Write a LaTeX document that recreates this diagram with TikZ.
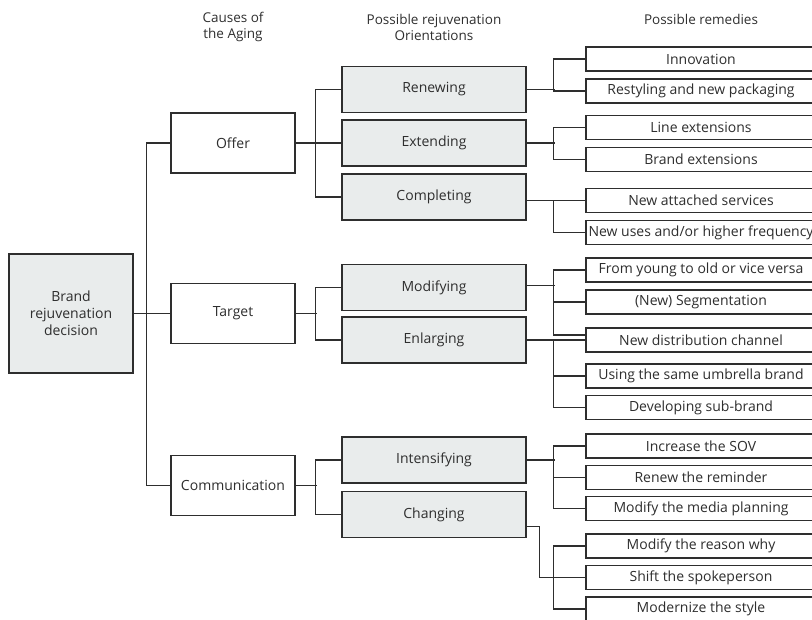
\documentclass[tikz,border=0pt]{standalone}
\usepackage{fontspec}
\setmainfont{Open Sans}
\definecolor{boxgray}{HTML}{E9ECEC}
\definecolor{inkgray}{HTML}{2E2E2E}
\begin{document}
\begin{tikzpicture}[x=1pt,y=-1pt,line width=1.3pt,
  every node/.style={text=inkgray,font=\fontsize{14}{17}\selectfont},
  rootbox/.style={draw=inkgray,fill=boxgray,minimum width=124pt,minimum height=119pt,align=center,inner sep=0pt},
  causebox/.style={draw=inkgray,fill=white,minimum width=124pt,minimum height=60pt,inner sep=0pt},
  orientbox/.style={draw=inkgray,fill=boxgray,minimum width=184pt,minimum height=46pt,inner sep=0pt},
  remedybox/.style={draw=inkgray,fill=white,minimum width=230pt,minimum height=24pt,inner sep=0pt},
  link/.style={draw=inkgray},
  headtext/.style={align=center,font=\fontsize{13.5}{16}\selectfont}]
\useasboundingbox (0,0) rectangle (812,620);
% column titles
\node[headtext] (hcause) at (233,27) {Causes of\\the Aging};
\node[headtext] (horient) at (434,27) {Possible rejuvenation\\Orientations};
\node[headtext] (hremedy) at (701,19) {Possible remedies};
% root and causes
\node[rootbox] (root) at (71,313.5) {Brand\\rejuvenation\\decision};
\node[causebox] (offer) at (233,143) {Offer};
\node[causebox] (target) at (233,313.5) {Target};
\node[causebox] (comm) at (233,485.5) {Communication};
% orientations
\node[orientbox] (renew) at (434,89.5) {Renewing};
\node[orientbox] (extend) at (434,143) {Extending};
\node[orientbox] (complete) at (434,197) {Completing};
\node[orientbox] (modify) at (434,287.5) {Modifying};
\node[orientbox] (enlarge) at (434,340) {Enlarging};
\node[orientbox] (intens) at (434,460) {Intensifying};
\node[orientbox] (change) at (434,514.5) {Changing};
% remedies
\node[remedybox] (innov) at (701,59) {Innovation};
\node[remedybox] (restyle) at (701,91) {Restyling and new packaging};
\node[remedybox] (lineext) at (701,127.5) {Line extensions};
\node[remedybox] (brandext) at (701,159.5) {Brand extensions};
\node[remedybox] (attached) at (701,200.5) {New attached services};
\node[remedybox] (newuses) at (701,232.5) {New uses and/or higher frequency};
\node[remedybox] (young) at (701,270) {From young to old or vice versa};
\node[remedybox] (segment) at (701,302) {(New) Segmentation};
\node[remedybox] (distrib) at (701,340) {New distribution channel};
\node[remedybox] (umbrella) at (701,376) {Using the same umbrella brand};
\node[remedybox] (subbrand) at (701,407.5) {Developing sub-brand};
\node[remedybox] (sov) at (701,446) {Increase the SOV};
\node[remedybox] (reminder) at (701,477.5) {Renew the reminder};
\node[remedybox] (media) at (701,508.5) {Modify the media planning};
\node[remedybox] (reason) at (701,546) {Modify the reason why};
\node[remedybox] (spokes) at (701,577.5) {Shift the spokeperson};
\node[remedybox] (modern) at (701,609) {Modernize the style};
% root to causes
\draw[link] (root.east) -- (target.west);
\draw[link] (offer.west) -- ++(-24,0) |- (comm.west);
% causes to orientations
\draw[link] (offer.east) -- (extend.west);
\draw[link] (renew.west) -- ++(-26,0) |- (complete.west);
\draw[link] (target.east) -- ++(21,0);
\draw[link] (modify.west) -- ++(-26,0) |- (enlarge.west);
\draw[link] (comm.east) -- ++(21,0);
\draw[link] (intens.west) -- ++(-26,0) |- (change.west);
% orientations to remedies
\draw[link] (renew.east) -- ++(28,0);
\draw[link] (innov.west) -- ++(-32,0) |- (restyle.west);
\draw[link] (extend.east) -- ++(28,0);
\draw[link] (lineext.west) -- ++(-32,0) |- (brandext.west);
\draw[link] (attached.west) -- (attached.west -| complete.east);
\draw[link] (attached.west) -- ++(-32,0) |- (newuses.west);
\draw[link] ([yshift=2pt]modify.east) -- ++(28,0);
\draw[link] (young.west) -- ++(-32,0) |- ([yshift=5pt]distrib.west);
\draw[link] (segment.west) -- ++(-32,0);
\draw[link] (enlarge.east) -- (distrib.west);
\draw[link] (distrib.west) -- ++(-32,0) |- (subbrand.west);
\draw[link] (umbrella.west) -- ++(-32,0);
\draw[link] (intens.east) -- ++(28,0);
\draw[link] (sov.west) -- ++(-32,0) |- (media.west);
\draw[link] (reminder.west) -- ++(-32,0);
\draw[link] ([yshift=-12pt]change.east) -- ++(13,0) |- (spokes.west);
\draw[link] (reason.west) -- ++(-32,0) |- (modern.west);
\end{tikzpicture}
\end{document}
